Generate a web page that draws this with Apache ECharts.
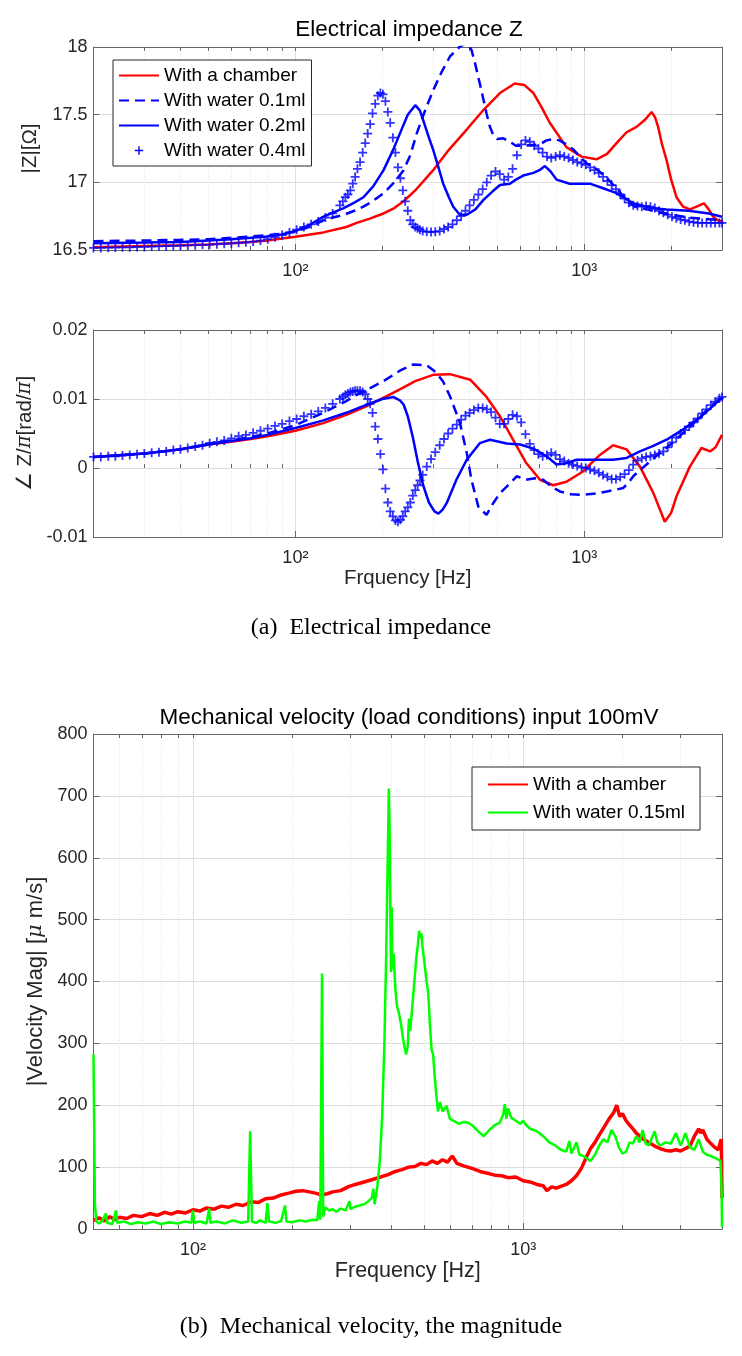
<!DOCTYPE html>
<html><head><meta charset="utf-8">
<script src="https://cdn.jsdelivr.net/npm/echarts@6/dist/echarts.min.js"></script>
<style>html,body{margin:0;padding:0;background:#fff}#c{width:742px;height:1356px}</style>
</head><body><div id="c"></div>
<script>
// ---------------- DATA ----------------
// Top panel: |Z| [Ohm] vs frequency [Hz]
const zChamber = [[20,16.52],[30,16.53],[40,16.535],[50,16.54],[60,16.55],[70,16.56],[80,16.57],[90,16.585],[100,16.598],[125,16.63],[150,16.67],[163,16.70],[180,16.73],[202,16.77],[220,16.81],[237,16.86],[260,16.94],[300,17.09],[340,17.24],[392,17.39],[450,17.54],[511,17.66],[575,17.73],[620,17.72],[667,17.66],[710,17.56],[760,17.44],[868,17.26],[980,17.19],[1104,17.17],[1200,17.21],[1294,17.29],[1402,17.37],[1518,17.41],[1620,17.46],[1711,17.52],[1760,17.48],[1803,17.41],[1860,17.28],[1928,17.165],[2000,17.02],[2087,16.89],[2200,16.82],[2322,16.80],[2450,16.82],[2596,16.845],[2700,16.80],[2795,16.746],[2900,16.72],[3000,16.71]];
const zWater01 = [[20,16.565],[30,16.57],[40,16.575],[50,16.58],[60,16.59],[70,16.60],[80,16.61],[90,16.62],[100,16.635],[115,16.68],[125,16.72],[135,16.74],[147,16.76],[160,16.79],[172,16.82],[185,16.86],[202,16.92],[220,17.0],[237,17.09],[250,17.2],[263,17.36],[280,17.52],[300,17.68],[320,17.81],[343,17.93],[370,18.0],[392,18.03],[407,17.98],[420,17.87],[435,17.73],[447,17.62],[459,17.51],[470,17.42],[484,17.35],[500,17.32],[525,17.325],[553,17.30],[580,17.27],[620,17.27],[660,17.275],[703,17.28],[740,17.31],[781,17.32],[820,17.31],[868,17.28],[920,17.24],[966,17.19],[1020,17.14],[1100,17.10],[1200,17.03],[1300,16.95],[1400,16.87],[1500,16.82],[1650,16.80],[1800,16.78],[2000,16.76],[2300,16.74],[2600,16.73],[3000,16.72]];
const zWater02 = [[20,16.55],[30,16.555],[40,16.56],[50,16.57],[60,16.58],[70,16.59],[80,16.60],[90,16.615],[100,16.64],[113,16.69],[125,16.746],[147,16.81],[160,16.85],[172,16.89],[186,16.97],[202,17.09],[218,17.24],[230,17.36],[245,17.50],[260,17.57],[270,17.53],[277,17.46],[290,17.33],[300,17.24],[312,17.12],[325,16.99],[340,16.89],[352,16.82],[371,16.76],[392,16.76],[420,16.80],[448,16.87],[480,16.93],[511,16.98],[553,16.99],[580,17.02],[615,17.05],[667,17.07],[700,17.09],[731,17.12],[765,17.08],[802,17.02],[891,16.99],[1046,16.99],[1150,16.96],[1294,16.92],[1479,16.845],[1700,16.81],[1928,16.80],[2300,16.79],[2700,16.77],[3000,16.746]];
// 0.4 ml: marker samples (frequency, |Z|, phase)
const freqPlus = [20,21.2,22.5,23.8,25.2,26.7,28.3,30,31.8,33.7,35.7,37.8,40,42.4,45,47.7,50.5,53.5,56.7,60,63.6,67.4,71.4,75.7,80.2,85,90,95.4,101,107,113.4,120,127,134.6,142.6,
 146,149,152,155,158,161,164,167.5,171,174.5,178,181.5,185,189,193,197,201,205,209,213,217.5,222,226.5,231,235.5,240,245,250,255,260,265,270,276,
 285,295,305,316,327,338,350,362,375,388,401,415,430,445,460,476,493,510,528,546,565,585,605,626,648,671,694,718,743,769,796,824,853,883,914,946,979,1013,1048,1085,1123,1162,1203,1245,1288,1333,1380,1428,1478,1530,1583,1638,1696,1755,1816,1880,1946,2014,2084,2157,2232,2310,2391,2475,2561,2651,2744,2840,2939,3000];
const zWater04 = [16.515,16.515,16.517,16.518,16.52,16.52,16.522,16.523,16.525,16.527,16.528,16.53,16.532,16.534,16.536,16.538,16.54,16.543,16.546,16.549,16.553,16.557,16.562,16.57,16.58,16.595,16.61,16.63,16.65,16.67,16.69,16.71,16.74,16.77,16.83,
 16.86,16.89,16.91,16.94,16.99,17.04,17.10,17.15,17.22,17.29,17.36,17.43,17.51,17.58,17.64,17.66,17.65,17.60,17.52,17.44,17.33,17.22,17.11,17.03,16.94,16.86,16.79,16.72,16.69,16.67,16.66,16.65,16.64,
 16.635,16.633,16.635,16.64,16.655,16.67,16.69,16.72,16.75,16.79,16.83,16.87,16.91,16.95,17.0,17.05,17.08,17.06,17.02,17.04,17.10,17.20,17.28,17.31,17.30,17.27,17.25,17.22,17.19,17.18,17.19,17.20,17.19,17.18,17.165,17.15,17.14,17.13,17.11,17.09,17.07,17.04,17.01,16.98,16.95,16.91,16.88,16.85,16.83,16.825,16.82,16.825,16.82,16.81,16.79,16.775,16.76,16.745,16.735,16.725,16.72,16.71,16.705,16.70,16.70,16.70,16.70,16.70,16.70,16.70];
const pWater04 = [0.0016,0.0016,0.0017,0.0017,0.0018,0.0019,0.0020,0.0021,0.0022,0.0023,0.0024,0.0026,0.0027,0.0029,0.0031,0.0033,0.0036,0.0038,0.0040,0.0043,0.0046,0.0048,0.0051,0.0054,0.0057,0.0061,0.0064,0.0068,0.0071,0.0075,0.0078,0.0082,0.0087,0.0093,0.0100,
 0.0103,0.0106,0.0108,0.0110,0.0111,0.0112,0.0112,0.0112,0.0110,0.0107,0.0100,0.0093,0.0080,0.0060,0.0042,0.0020,-0.0002,-0.0030,-0.0050,-0.0063,-0.0070,-0.0076,-0.0078,-0.0075,-0.0070,-0.0063,-0.0057,-0.0050,-0.0040,-0.0032,-0.0025,-0.0018,-0.0010,
 0.0002,0.0013,0.0023,0.0033,0.0042,0.0050,0.0057,0.0063,0.0070,0.0076,0.0080,0.0084,0.0087,0.0087,0.0085,0.0081,0.0073,0.0064,0.0064,0.0071,0.0077,0.0075,0.0066,0.0049,0.0035,0.0026,0.0020,0.0017,0.0019,0.0022,0.0019,0.0013,0.0010,0.0007,0.0005,0.0003,0.0001,0.0,-0.0002,-0.0004,-0.0007,-0.0010,-0.0013,-0.0016,-0.0016,-0.0013,-0.0009,-0.0003,0.0005,0.0011,0.0014,0.0016,0.0017,0.0019,0.0021,0.0024,0.0030,0.0037,0.0044,0.0050,0.0055,0.0060,0.0066,0.0072,0.0079,0.0085,0.0091,0.0096,0.0101,0.0103];
// Middle panel: phase of Z / pi
const pChamber = [[20,0.0016],[30,0.0021],[40,0.0027],[50,0.0034],[60,0.0038],[70,0.0042],[80,0.0046],[100,0.0054],[125,0.0065],[150,0.0077],[175,0.0089],[200,0.0101],[230,0.0114],[260,0.0126],[300,0.0135],[343,0.0136],[403,0.0128],[459,0.0103],[511,0.0075],[567,0.0041],[628,0.0008],[703,-0.0017],[781,-0.0025],[868,-0.0020],[990,-0.0005],[1133,0.0019],[1260,0.0033],[1402,0.0027],[1560,0.0002],[1735,-0.0036],[1901,-0.0078],[2000,-0.0065],[2087,-0.0041],[2322,0.0002],[2546,0.0029],[2729,0.0024],[2850,0.0030],[3000,0.0048]];
const pWater01 = [[20,0.0016],[30,0.0021],[40,0.0027],[50,0.0035],[60,0.0040],[70,0.0045],[80,0.0050],[100,0.0062],[125,0.0080],[150,0.0097],[163,0.0106],[180,0.0115],[202,0.0126],[230,0.0141],[256,0.0150],[285,0.0149],[308,0.0138],[325,0.0125],[343,0.0104],[371,0.0066],[392,0.0022],[407,-0.0017],[430,-0.0056],[459,-0.0068],[484,-0.0051],[510,-0.0037],[539,-0.0027],[584,-0.0012],[628,-0.0017],[675,-0.0015],[721,-0.0017],[770,-0.0027],[824,-0.0034],[900,-0.0038],[990,-0.0039],[1100,-0.0037],[1197,-0.0034],[1300,-0.0031],[1364,-0.0029],[1420,-0.0022],[1479,-0.0012],[1560,-0.0003],[1644,0.0005],[1730,0.0013],[1828,0.0022],[1950,0.0031],[2100,0.0043],[2300,0.0058],[2500,0.0073],[2750,0.0090],[3000,0.0102]];
const pWater02 = [[20,0.0016],[30,0.0021],[40,0.0027],[50,0.0034],[60,0.0039],[70,0.0043],[80,0.0048],[100,0.0058],[125,0.0069],[150,0.0080],[175,0.0091],[200,0.0100],[218,0.0103],[230,0.0098],[237,0.0092],[245,0.0075],[255,0.0045],[265,0.0010],[277,-0.0025],[290,-0.0050],[303,-0.0063],[313,-0.0066],[324,-0.0060],[334,-0.0051],[361,-0.0017],[392,0.0012],[435,0.0036],[472,0.0041],[539,0.00355],[600,0.0034],[667,0.0028],[741,0.0017],[802,0.0005],[868,0.0007],[941,0.0012],[1070,0.0012],[1260,0.0012],[1402,0.00145],[1560,0.0024],[1735,0.0032],[1928,0.0041],[2203,0.0056],[2512,0.0073],[2795,0.0090],[3000,0.0102]];
// Bottom panel: velocity magnitude [um/s]
const vChamber = [[50,14],[52,18],[54,13],[56,20],[58,15],[60,19],[63,17],[66,22],[70,20],[74,25],[78,22],[82,27],[86,24],[90,28],[95,26],[100,31],[105,29],[110,34],[116,32],[122,37],[128,35],[135,40],[142,38],[150,44],[158,43],[166,49],[175,50],[185,55],[195,58],[205,61],[215,62],[225,60],[235,58],[245,55],[255,57],[265,60],[280,62],[295,68],[310,72],[330,76],[350,80],[370,84],[390,88],[410,93],[430,96],[450,100],[470,101],[490,106],[510,104],[530,110],[550,106],[570,112],[590,108],[610,118],[630,106],[660,102],[700,98],[740,93],[780,90],[820,87],[860,86],[900,83],[950,84],[1000,78],[1050,76],[1100,72],[1150,70],[1180,62],[1220,68],[1260,66],[1300,69],[1350,72],[1400,78],[1450,86],[1500,98],[1550,115],[1600,130],[1650,140],[1700,152],[1760,165],[1820,178],[1880,188],[1920,200],[1960,182],[2000,186],[2050,175],[2100,168],[2150,162],[2200,155],[2300,146],[2400,140],[2500,134],[2600,130],[2700,127],[2800,126],[2900,128],[3000,126],[3100,130],[3200,134],[3300,150],[3400,162],[3450,155],[3500,160],[3600,145],[3700,138],[3800,132],[3900,128],[3950,140],[3980,145],[4000,50]];
const vWater015 = [[50,282],[50.5,40],[51,12],[52,9],[53,12],[54.5,25],[55,10],[57,8],[58.5,30],[59,10],[62,12],[65,8],[68,11],[72,9],[76,12],[80,8],[85,11],[90,9],[95,12],[99,10],[100,30],[101,10],[105,12],[110,9],[112,33],[113,10],[118,12],[125,9],[132,14],[140,10],[147,12],[149,158],[151,12],[155,10],[160,14],[166,10],[168,42],[170,12],[178,10],[185,13],[190,38],[192,12],[200,11],[210,14],[220,12],[230,15],[238,14],[241,45],[243,15],[246,413],[248,20],[252,35],[258,30],[265,32],[272,28],[280,33],[290,30],[298,45],[300,32],[310,36],[320,38],[330,40],[340,45],[348,50],[352,65],[355,40],[362,70],[368,110],[374,180],[380,300],[385,450],[389,600],[392,712],[394,650],[396,520],[398,415],[400,520],[402,420],[405,445],[410,390],[415,360],[420,350],[427,330],[432,310],[437,295],[442,282],[447,295],[451,340],[455,320],[460,350],[465,380],[470,410],[475,440],[480,460],[484,482],[488,470],[492,478],[496,455],[500,440],[505,420],[510,400],[516,380],[522,330],[528,290],[534,281],[540,245],[546,215],[552,190],[560,205],[570,190],[586,199],[600,178],[620,174],[640,170],[660,173],[680,172],[700,168],[730,158],[760,150],[790,160],[820,168],[850,172],[870,185],[880,202],[890,178],[900,195],[920,180],[950,175],[980,170],[1000,175],[1020,168],[1050,162],[1100,158],[1150,150],[1200,140],[1250,135],[1300,128],[1350,125],[1380,142],[1400,122],[1450,140],[1480,120],[1520,118],[1560,114],[1600,110],[1650,120],[1700,135],[1750,145],[1800,140],[1850,160],[1900,150],[1950,132],[2000,122],[2050,125],[2100,140],[2150,138],[2200,150],[2250,140],[2300,160],[2350,138],[2400,135],[2500,158],[2550,140],[2600,135],[2700,140],[2800,138],[2900,155],[3000,135],[3100,155],[3200,132],[3300,128],[3400,145],[3500,125],[3600,120],[3700,118],[3800,115],[3900,112],[3960,110],[3990,60],[4000,3]];
// axis ticks
const majorTicks = [100, 1000];
const minorTicksA = [30,40,50,60,70,80,90,200,300,400,500,600,700,800,900,2000];
const minorTicksB = [60,70,80,90,200,300,400,500,600,700,800,900,2000,3000];

// ---------------- STYLE ----------------
const FONT = '"Liberation Sans", Arial, Helvetica, sans-serif';
const TXT = '#262626';
const RED = '#ff0000', BLUE = '#0000ff', GREEN = '#00ff00';
const PLUS = 'path://M4,0h2v4h4v2h-4v4h-2v-4h-4v-2h4z';
const PLUS_LEG = 'path://M0,0h0.01v0.01h-0.01z M19.99,19.99h0.01v0.01h-0.01z M9,4h2v5h5v2h-5v5h-2v-5h-5v-2h5z';
const SUP = {'2':'²','3':'³'};
const fmtPow = v => '10' + SUP[String(Math.round(Math.log10(v)))];

const L = 93.5, W = 628.5;
const grids = [
  {left: L, top: 47, width: W, height: 203},
  {left: L, top: 330, width: W, height: 207},
  {left: L, top: 734, width: W, height: 495}
];
const xr = [[20, 3000], [20, 3000], [50, 4000]];

const xAxes = [], yAxes = [];
grids.forEach((g, i) => {
  const minors = i < 2 ? minorTicksA : minorTicksB;
  xAxes.push({type: 'log', logBase: 10, gridIndex: i, min: xr[i][0], max: xr[i][1], position: 'bottom',
    axisLine: {show: true, onZero: false, lineStyle: {color: '#666', width: 1}},
    axisTick: {show: true, inside: true, length: 6, customValues: majorTicks, lineStyle: {color: '#666'}},
    axisLabel: {show: true, customValues: majorTicks, formatter: fmtPow, color: TXT, fontFamily: FONT, fontSize: 18, margin: 12},
    splitLine: {show: true, lineStyle: {color: '#dedede', width: 1}},
    name: i === 1 ? 'Frquency [Hz]' : (i === 2 ? 'Frequency [Hz]' : ''),
    nameLocation: 'middle', nameGap: 30,
    nameTextStyle: {color: TXT, fontFamily: FONT, fontSize: i === 2 ? 21.5 : 20.5}
  });
  xAxes.push({type: 'log', logBase: 10, gridIndex: i, min: xr[i][0], max: xr[i][1], position: 'top',
    axisLine: {show: true, onZero: false, lineStyle: {color: '#666', width: 1}},
    axisTick: {show: true, inside: true, length: 4, customValues: minors.concat(majorTicks), lineStyle: {color: '#666'}},
    axisLabel: {show: false},
    splitLine: {show: true, lineStyle: {color: '#e2e2e2', width: 1, type: [1, 2]}}
  });
  xAxes.push({type: 'log', logBase: 10, gridIndex: i, min: xr[i][0], max: xr[i][1], position: 'bottom',
    axisLine: {show: false},
    axisTick: {show: true, inside: true, length: 4, customValues: minors, lineStyle: {color: '#666'}},
    axisLabel: {show: false}, splitLine: {show: false}
  });
});

const yDefs = [
  {min: 16.5, max: 18, interval: 0.5, name: '|Z|[Ω]', gap: 53, fs: 20.5},
  {min: -0.01, max: 0.02, interval: 0.01, name: '∠ Z/{i|π}[rad/{i|π}]', gap: 53, fs: 20.5},
  {min: 0, max: 800, interval: 100, name: '|Velocity Mag| [{i|μ} m/s]', gap: 44, fs: 22}
];
yDefs.forEach((d, i) => {
  yAxes.push({type: 'value', gridIndex: i, min: d.min, max: d.max, interval: d.interval, position: 'left',
    axisLine: {show: true, onZero: false, lineStyle: {color: '#666', width: 1}},
    axisTick: {show: true, inside: true, length: 6, lineStyle: {color: '#666'}},
    axisLabel: {color: TXT, fontFamily: FONT, fontSize: 18, margin: 6},
    splitLine: {show: true, lineStyle: {color: '#dedede', width: 1}},
    name: d.name, nameLocation: 'middle', nameGap: d.gap, nameRotate: 90,
    nameTextStyle: {color: TXT, fontFamily: FONT, fontSize: d.fs,
      rich: {i: {fontStyle: 'italic', fontFamily: '"DejaVu Serif", serif', fontSize: d.fs - 1, color: TXT}}}
  });
  yAxes.push({type: 'value', gridIndex: i, min: d.min, max: d.max, interval: d.interval, position: 'right',
    axisLine: {show: true, onZero: false, lineStyle: {color: '#666', width: 1}},
    axisTick: {show: true, inside: true, length: 6, lineStyle: {color: '#666'}},
    axisLabel: {show: false}, splitLine: {show: false}
  });
});

const lineS = (name, data, xi, yi, color, dash, width) => ({
  type: 'line', name, data, xAxisIndex: xi, yAxisIndex: yi, symbol: 'none', clip: true,
  lineStyle: {color, width: width || 2.5, type: dash ? [10, 6] : 'solid'}, itemStyle: {color}, z: 3
});
const plusS = (name, data, xi, yi) => ({
  type: 'scatter', name, data, xAxisIndex: xi, yAxisIndex: yi, symbol: PLUS, symbolSize: 9,
  itemStyle: {color: BLUE}, clip: true, z: 4
});

const plusZ = freqPlus.map((f, k) => [f, zWater04[k]]);
const plusP = freqPlus.map((f, k) => [f, pWater04[k]]);

const N1 = 'With a chamber', N2 = 'With water 0.1ml', N3 = 'With water 0.2ml', N4 = 'With water 0.4ml', N5 = 'With water 0.15ml';

const series = [
  lineS(N1, zChamber, 0, 0, RED), lineS(N2, zWater01, 0, 0, BLUE, true), lineS(N3, zWater02, 0, 0, BLUE), plusS(N4, plusZ, 0, 0),
  lineS(N1, pChamber, 3, 2, RED), lineS(N2, pWater01, 3, 2, BLUE, true), lineS(N3, pWater02, 3, 2, BLUE), plusS(N4, plusP, 3, 2),
  lineS(N1, vChamber, 6, 4, RED, false, 3.5), lineS(N5, vWater015, 6, 4, GREEN, false, 2.5)
];

const legendBase = {orient: 'vertical', backgroundColor: '#fff', borderColor: '#262626', borderWidth: 1, borderRadius: 0,
  itemWidth: 40, itemHeight: 14, selectedMode: false, itemStyle: {opacity: 0},
  textStyle: {fontSize: 19, color: '#000', fontFamily: FONT}};

const option = {
  animation: false,
  backgroundColor: '#fff',
  title: [
    {text: 'Electrical impedance Z', left: 409, top: 18, textAlign: 'center', padding: 0,
      textStyle: {fontFamily: FONT, fontSize: 22.5, fontWeight: 'normal', color: '#000'}},
    {text: 'Mechanical velocity (load conditions) input 100mV', left: 409, top: 706, textAlign: 'center', padding: 0,
      textStyle: {fontFamily: FONT, fontSize: 22.5, fontWeight: 'normal', color: '#000'}}
  ],
  grid: grids,
  xAxis: xAxes,
  yAxis: yAxes,
  legend: [
    Object.assign({}, legendBase, {left: 113, top: 60, padding: [6, 6, 6, 5], itemGap: 6,
      data: [N1, N2, N3, {name: N4, icon: PLUS_LEG, itemStyle: {opacity: 1}}]}),
    Object.assign({}, legendBase, {left: 472, top: 767, padding: [8, 15, 8, 15], itemGap: 9,
      data: [N1, N5]})
  ],
  graphic: [
    {type: 'text', left: 'center', top: 616, style: {text: '(a)  Electrical impedance', font: '24px "Liberation Serif", serif', fill: '#000'}},
    {type: 'text', left: 'center', top: 1315, style: {text: '(b)  Mechanical velocity, the magnitude', font: '24px "Liberation Serif", serif', fill: '#000'}}
  ],
  series
};
const chart = echarts.init(document.getElementById('c'), null, {renderer: 'canvas'});
chart.setOption(option);
</script></body></html>
